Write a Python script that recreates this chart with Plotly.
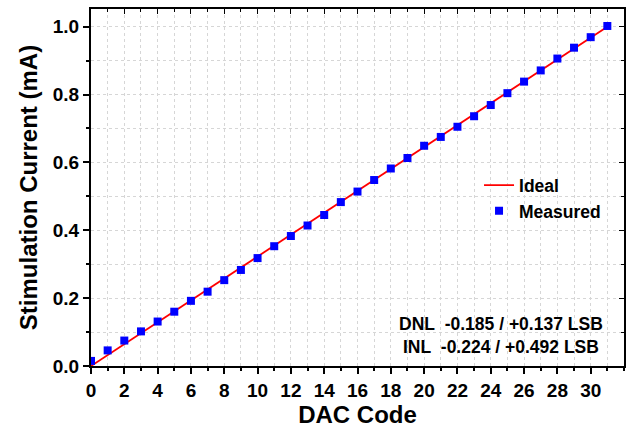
import plotly.graph_objects as go

codes = list(range(32))
ideal_codes = [0, 31]
ideal_current = [0.0, 1.0]
measured_current = [0.015, 0.046, 0.075, 0.102, 0.131, 0.160, 0.192, 0.219,
                    0.253, 0.283, 0.318, 0.353, 0.383, 0.414, 0.445, 0.483,
                    0.514, 0.548, 0.582, 0.613, 0.649, 0.675, 0.705, 0.736,
                    0.769, 0.804, 0.838, 0.871, 0.906, 0.938, 0.969, 1.002]
x_ticks = list(range(0, 31, 2))
y_ticks = [0.0, 0.2, 0.4, 0.6, 0.8, 1.0]
y_tick_labels = ["0.0", "0.2", "0.4", "0.6", "0.8", "1.0"]

FONT = "Liberation Sans, Arial, sans-serif"
GRID = "#d6d6d6"

fig = go.Figure()
fig.add_trace(go.Scatter(x=ideal_codes, y=ideal_current, mode="lines",
                         name="Ideal", line=dict(color="#ff0000", width=1.8)))
fig.add_trace(go.Scatter(x=codes, y=measured_current, mode="markers",
                         name="Measured",
                         marker=dict(symbol="square", size=8, color="#0000ff",
                                     line=dict(width=0))))
# mirror axes (inside ticks on top / right)
fig.add_trace(go.Scatter(x=codes, y=measured_current, xaxis="x2", yaxis="y2",
                         mode="markers", marker=dict(opacity=0),
                         showlegend=False, hoverinfo="skip"))

axis_common = dict(showline=True, linecolor="black", linewidth=2,
                   zeroline=False, ticks="outside", ticklen=6, tickwidth=1.5,
                   tickcolor="black", showgrid=True, gridcolor=GRID,
                   griddash="dot", gridwidth=1,
                   tickfont=dict(family=FONT, size=19, color="black",
                                 weight="bold"))

fig.update_layout(
    width=630, height=428,
    margin=dict(l=91, r=6, t=9, b=59),
    paper_bgcolor="white", plot_bgcolor="white",
    xaxis=dict(range=[0, 32], tickvals=x_ticks, **axis_common,
               minor=dict(dtick=1, ticks="outside", ticklen=3,
                          tickcolor="black", showgrid=True, gridcolor=GRID,
                          griddash="dot"),
               title=dict(text="DAC Code", standoff=4,
                          font=dict(family=FONT, size=24, color="black",
                                    weight="bold"))),
    yaxis=dict(range=[0, 1.052], tickvals=y_ticks, ticktext=y_tick_labels,
               **axis_common,
               minor=dict(dtick=0.1, ticks="outside", ticklen=3,
                          tickcolor="black", showgrid=True, gridcolor=GRID,
                          griddash="dot"),
               title=dict(text="Stimulation Current (mA)", standoff=8,
                          font=dict(family=FONT, size=24, color="black",
                                    weight="bold"))),
    xaxis2=dict(overlaying="x", side="top", range=[0, 32], tickvals=x_ticks,
                showticklabels=False, ticks="inside", ticklen=5,
                tickcolor="black", showline=True, linecolor="black",
                linewidth=2, showgrid=False, zeroline=False,
                minor=dict(dtick=1, ticks="inside", ticklen=3,
                           tickcolor="black")),
    yaxis2=dict(overlaying="y", side="right", range=[0, 1.052],
                tickvals=y_ticks, showticklabels=False, ticks="inside",
                ticklen=5, tickcolor="black", showline=True,
                linecolor="black", linewidth=2, showgrid=False,
                zeroline=False,
                minor=dict(dtick=0.1, ticks="inside", ticklen=3,
                           tickcolor="black")),
    legend=dict(x=0.728, y=0.47, xanchor="left", yanchor="middle",
                bgcolor="rgba(0,0,0,0)", borderwidth=0, tracegroupgap=0,
                font=dict(family=FONT, size=17.5, color="black",
                          weight="bold")),
    annotations=[dict(
        xref="paper", yref="paper", x=0.769, y=0.085,
        xanchor="center", yanchor="middle", align="center", showarrow=False,
        text="DNL\u00a0\u00a0-0.185 / +0.137 LSB<br>INL\u00a0\u00a0-0.224 / +0.492 LSB",
        font=dict(family=FONT, size=17.5, color="black", weight="bold"))],
)

fig.write_html("out.html")
